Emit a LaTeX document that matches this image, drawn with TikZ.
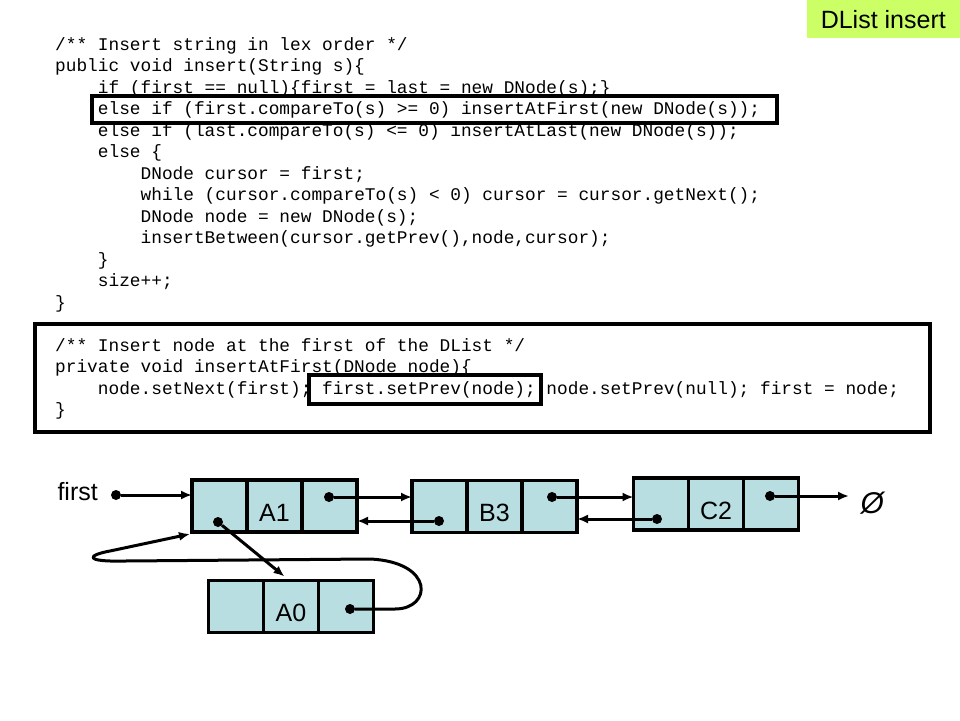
\documentclass[tikz,border=0pt]{standalone}
\usepackage{fontspec}
\setmainfont{Liberation Sans}
\newfontfamily\codefont{Liberation Mono}
\usepackage{tikz}
\usetikzlibrary{positioning}
\usetikzlibrary{arrows.meta}
\definecolor{cellblue}{RGB}{184,222,226}
\definecolor{tabgreen}{RGB}{204,255,102}
\newcommand\indt{\hphantom{0000}}

\begin{document}
\begin{tikzpicture}[x=1pt,y=-1pt,
    cell/.style={draw=black, line width=3.5pt, fill=cellblue, rectangle, outer sep=0pt,
minimum width=55pt, minimum height=52pt, inner sep=0pt,
font=\fontsize{25}{30}\selectfont, text height=30pt, text depth=0pt},
    dot/.style={circle, fill=black, inner sep=0pt, minimum size=10pt},
    link/.style={line width=3pt, line join=round, -{Latex[length=11pt,width=9pt]}},
    code/.style={font=\codefont\fontsize{17.8}{21.5}\selectfont, align=left,
inner sep=0pt, anchor=north west},
    hilite/.style={draw=black, line width=3.5pt, rectangle, inner sep=0pt}]
\useasboundingbox (0,0) rectangle (960,720);
\node[fill=tabgreen, minimum width=153pt, minimum height=38pt, anchor=north east,
font=\fontsize{25}{30}\selectfont] (tab) at (960,0) {DList insert};

\node[code] (insert) at (55,37) {/** Insert string in lex order */\\
public void insert(String s)\{\\
\indt if (first == null)\{first = last = new DNode(s);\}\\
\indt else if (first.compareTo(s) >= 0) insertAtFirst(new DNode(s));\\
\indt else if (last.compareTo(s) <= 0) insertAtLast(new DNode(s));\\
\indt else \{\\
\indt\indt DNode cursor = first;\\
\indt\indt while (cursor.compareTo(s) < 0) cursor = cursor.getNext();\\
\indt\indt DNode node = new DNode(s);\\
\indt\indt insertBetween(cursor.getPrev(),node,cursor);\\
\indt \}\\
\indt size++;\\
\}};
\node[hilite, minimum width=685pt, minimum height=27pt] (hlcall) at (434.5,109.5) {};

\node[hilite, minimum width=895pt, minimum height=108pt] (atfirst) at (482.5,378) {};
\node[code] (atfirstcode) at (55,338) {/** Insert node at the first of the DList */\\
private void insertAtFirst(DNode node)\{\\
\indt node.setNext(first); first.setPrev(node); node.setPrev(null); first = node;\\
\}};
\node[hilite, minimum width=232pt, minimum height=29pt] (hlprev) at (425,389.5) {};

\node[cell] (a1p) at (219.5,506) {};
\node[cell, right=0pt of a1p] (a1d) {A1};
\node[cell, right=0pt of a1d] (a1n) {};
\node[cell] (b3p) at (439.5,506.5) {};
\node[cell, right=0pt of b3p] (b3d) {B3};
\node[cell, right=0pt of b3d] (b3n) {};
\node[cell] (c2p) at (661,504) {};
\node[cell, right=0pt of c2p] (c2d) {C2};
\node[cell, right=0pt of c2d] (c2n) {};
\node[cell] (a0p) at (236,606.5) {};
\node[cell, right=0pt of a0p] (a0d) {A0};
\node[cell, right=0pt of a0d] (a0n) {};

\node[font=\fontsize{25}{30}\selectfont, anchor=east, inner sep=0pt] (lfirst) at (98,492) {first};
\node[font=\fontsize{30}{34}\selectfont] (nul) at (873,503) {\textit{Ø}};
\coordinate (nulend) at (849,496);

\node[dot] (dfirst) at (116,495) {};
\node[dot] (da1p) at (218,522) {};
\node[dot] (da1n) at (329,497) {};
\node[dot] (db3p) at (439,521) {};
\node[dot] (db3n) at (552,497) {};
\node[dot] (dc2p) at (657,519) {};
\node[dot] (dc2n) at (770,496) {};
\node[dot] (da0n) at (350,609) {};

\draw[link] (dfirst) -- (dfirst -| a1p.west);
\draw[link] (da1n) -- (da1n -| b3p.west);
\draw[link] (db3p) -- (db3p -| a1n.east);
\draw[link] (db3n) -- (db3n -| c2p.west);
\draw[link] (dc2p) -- (dc2p -| b3n.east);
\draw[link] (dc2n) -- (nulend);
\draw[link] (da1p) -- ([xshift=21pt,yshift=4pt]a0d.north west);
\draw[link] (da0n) -- (395,609) .. controls (432,609) and (435,562) .. (370,559)
  -- (125,561) .. controls (82,562) and (88,555) .. (110,551)
  -- ([xshift=-2pt,yshift=-2pt]a1p.south west);
\end{tikzpicture}
\end{document}
